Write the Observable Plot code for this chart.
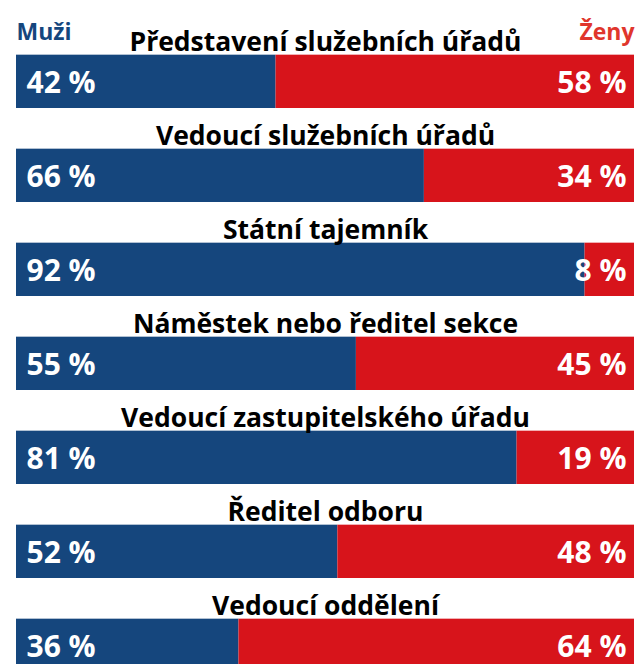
<!DOCTYPE html>
<html>
<head>
<meta charset="utf-8">
<script src="https://cdn.jsdelivr.net/npm/d3@7"></script>
<script src="https://cdn.jsdelivr.net/npm/@observablehq/plot@0.6"></script>
<style>
  html, body { margin: 0; padding: 0; background: #fff; overflow: hidden; }
  #chart svg { display: block; }
</style>
</head>
<body>
<div id="chart"></div>
<script>
const categories = [
  "Představení služebních úřadů",
  "Vedoucí služebních úřadů",
  "Státní tajemník",
  "Náměstek nebo ředitel sekce",
  "Vedoucí zastupitelského úřadu",
  "Ředitel odboru",
  "Vedoucí oddělení"
];
const muzi = [42, 66, 92, 55, 81, 52, 36];
const zeny = [58, 34, 8, 45, 19, 48, 64];
const seriesNames = ["Muži", "Ženy"];

const BLUE = "#15467d";
const RED = "#d7141b";
const FONT = "'Open Sans', 'Noto Sans', sans-serif";

const rows = [
  ...categories.map((c, i) => ({category: c, sex: seriesNames[0], value: muzi[i]})),
  ...categories.map((c, i) => ({category: c, sex: seriesNames[1], value: zeny[i]}))
];
const muziRows = rows.filter(d => d.sex === seriesNames[0]);
const zenyRows = rows.filter(d => d.sex === seriesNames[1]);

const width = 643, height = 674;
const marginTop = 11.33;
const band = (height - marginTop) / categories.length;
const barH = 54;
const insetTop = band - barH;

const chart = Plot.plot({
  width, height,
  marginTop, marginBottom: 0, marginLeft: 16, marginRight: 9,
  style: {fontFamily: FONT, background: "#fff"},
  x: {domain: [0, 100], axis: null},
  y: {domain: categories, axis: null, padding: 0},
  color: {domain: seriesNames, range: [BLUE, RED]},
  marks: [
    Plot.barX(rows, {x: "value", y: "category", fill: "sex", insetTop}),
    Plot.text(categories, {
      y: d => d, frameAnchor: "middle", lineAnchor: "bottom",
      dy: insetTop - band / 2 - 4,
      fontSize: 26.5, fontWeight: 700, fill: "#000"
    }),
    Plot.text(muziRows, {
      y: "category", text: d => `${d.value} %`, frameAnchor: "left", textAnchor: "start",
      lineAnchor: "bottom", dx: 10, dy: insetTop - band / 2 + 38.5,
      fontSize: 30, fontWeight: 700, fill: "#fff"
    }),
    Plot.text(zenyRows, {
      y: "category", text: d => `${d.value} %`, frameAnchor: "right", textAnchor: "end",
      lineAnchor: "bottom", dx: -8, dy: insetTop - band / 2 + 38.5,
      fontSize: 30, fontWeight: 700, fill: "#fff"
    }),
    Plot.text([seriesNames[0]], {
      text: d => d, frameAnchor: "top-left", textAnchor: "start", lineAnchor: "bottom",
      dy: 39 - marginTop, fontSize: 23, fontWeight: 700, fill: BLUE
    }),
    Plot.text([seriesNames[1]], {
      text: d => d, frameAnchor: "top-right", textAnchor: "end", lineAnchor: "bottom",
      dy: 39 - marginTop, fontSize: 23, fontWeight: 700, fill: "#e0362c"
    })
  ]
});
document.getElementById("chart").append(chart);
</script>
</body>
</html>
